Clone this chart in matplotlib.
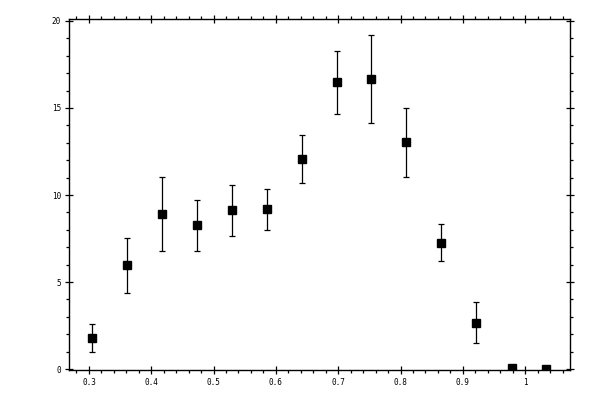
import matplotlib
matplotlib.use('Agg')
import matplotlib.pyplot as plt
from matplotlib.ticker import MultipleLocator

# data
x_values = [0.305, 0.3615, 0.4177, 0.4739, 0.530, 0.5862, 0.6425,
            0.6976, 0.7533, 0.8094, 0.8656, 0.9218, 0.9786, 1.0342]
y_values = [1.80, 5.97, 8.90, 8.25, 9.12, 9.17, 12.05,
            16.48, 16.65, 13.02, 7.27, 2.67, 0.08, 0.03]
y_errors = [0.81, 1.58, 2.12, 1.45, 1.45, 1.20, 1.38,
            1.80, 2.53, 2.00, 1.04, 1.18, 0.0, 0.0]

plt.rcParams['font.family'] = ['DejaVu Sans Mono']

fig = plt.figure(figsize=(6, 4), dpi=100)
ax = fig.add_axes([69 / 600, 1 - 370 / 400, 501 / 600, 351 / 400])

ax.errorbar(x_values, y_values, yerr=y_errors, fmt='s', color='black',
            markersize=5.2, elinewidth=0.9, capsize=2, capthick=0.9)

ax.set_xlim(0.268, 1.072)
ax.set_ylim(-0.05, 20.11)

ax.xaxis.set_major_locator(MultipleLocator(0.1))
ax.xaxis.set_minor_locator(MultipleLocator(0.02))
ax.yaxis.set_major_locator(MultipleLocator(5))
ax.yaxis.set_minor_locator(MultipleLocator(1))
ax.xaxis.set_major_formatter(plt.FuncFormatter(lambda v, p: f'{v:g}'))

ax.tick_params(which='major', direction='inout', length=5.5, width=0.9,
               top=True, right=True, labelsize=5.5, pad=3)
ax.tick_params(which='minor', direction='out', length=2.5, width=0.9,
               top=True, right=True)
for s in ax.spines.values():
    s.set_linewidth(1.0)

fig.savefig('out.png', dpi=100)
